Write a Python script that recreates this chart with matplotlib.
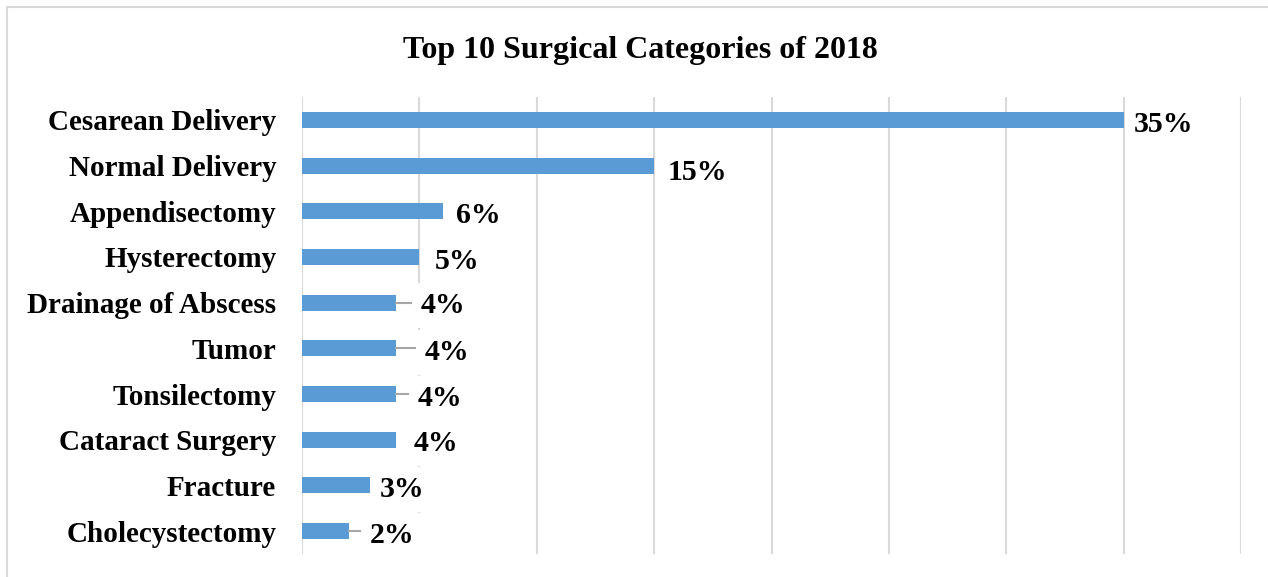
import matplotlib.pyplot as plt
from matplotlib.patches import Rectangle
import numpy as np

plt.rcParams['font.family'] = ['Liberation Serif', 'DejaVu Serif']

# top 10 surgical categories, share of all surgeries (%)
categories = ['Cesarean Delivery', 'Normal Delivery', 'Appendisectomy', 'Hysterectomy',
              'Drainage of Abscess', 'Tumor', 'Tonsilectomy', 'Cataract Surgery',
              'Fracture', 'Cholecystectomy']
shares = [35, 15, 6, 5, 4, 4, 4, 4, 3, 2]

# label placement: gap after bar end (px), downward nudge (px), leader line or not
lbl_gap = [10, 14, 13, 15, 25, 29, 22, 18, 7, 21]
lbl_dy = [2, 4, 1, 2, 0, 1, 1, 1, 1, 1]
leader = [False, False, False, False, True, True, True, False, False, True]

W, H = 1268, 577
fig = plt.figure(figsize=(W / 100, H / 100), dpi=100)

# chart border (light grey, cut off at right and bottom)
fig.patches.append(Rectangle((7 / W, -0.1), 1.2, 1 - 7 / H + 0.1, transform=fig.transFigure,
                             fill=False, edgecolor='#d9d9d9', linewidth=1.5))

ax = fig.add_axes([302 / W, 1 - 554 / H, (1241 - 302) / W, (554 - 97) / H])
y = np.arange(len(categories))
ax.barh(y, shares, height=0.35, color='#5b9bd5', zorder=2)

ax.set_xlim(0, 40)
ax.set_ylim(len(categories) - 0.5, -0.5)
ax.set_xticks(np.arange(0, 41, 5))
ax.xaxis.grid(True, color='#d9d9d9', linewidth=1.5, zorder=0)
ax.tick_params(axis='x', length=0, labelbottom=False)
ax.tick_params(axis='y', length=0, pad=18.5)
ax.set_yticks(y)
ax.set_yticklabels(categories, fontsize=21, fontweight='bold')
for s in ax.spines.values():
    s.set_visible(False)

px = 40 / (1241 - 302)  # data units per pixel
for i, v in enumerate(shares):
    x_text = v + lbl_gap[i] * px
    if leader[i]:
        ax.plot([v, x_text - 7 * px], [i, i], color='#a6a6a6', lw=1.5, zorder=3)
    ax.annotate(f'{v}%', (x_text, i), xytext=(0, -lbl_dy[i]), textcoords='offset pixels',
                ha='left', va='center_baseline', fontsize=21.5, fontweight='bold', zorder=4,
                bbox=dict(boxstyle='square,pad=0.3', fc='white', ec='none'))

fig.text(640 / W, 1 - 47 / H, 'Top 10 Surgical Categories of 2018', ha='center',
         va='center_baseline', fontsize=23, fontweight='bold')

fig.savefig('out.png', dpi=100)
